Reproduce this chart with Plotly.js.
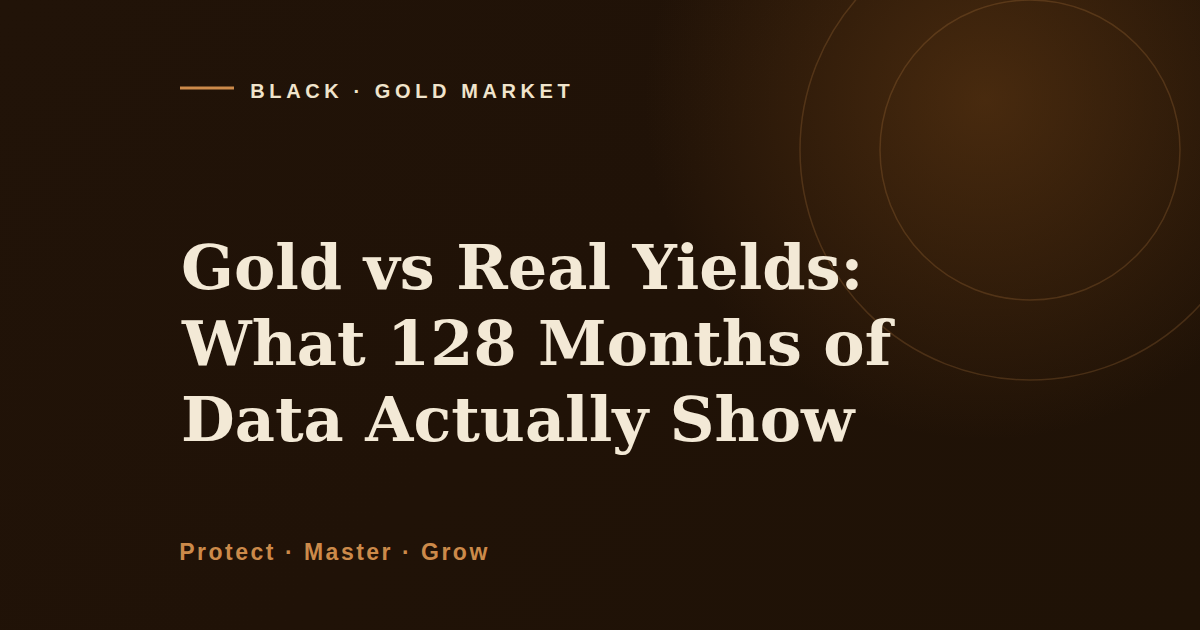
<!DOCTYPE html>
<html>
<head>
<meta charset="utf-8">
<script src="https://cdn.plot.ly/plotly-3.0.1.min.js"></script>
<style>
    html, body { margin: 0; padding: 0; }
    #card {
        width: 1200px;
        height: 630px;
        background:
            radial-gradient(circle 340px at 985px 100px, rgba(112, 66, 22, 0.50), rgba(112, 66, 22, 0) 100%),
            linear-gradient(135deg, #211308 0%, #201207 50%, #1f1206 100%);
    }
    /* letter spacing for the small caps lines (plotly centres text, so x is shifted to compensate) */
    #card g.annotation[data-index="0"] text { letter-spacing: 4.6px; }
    #card g.annotation[data-index="1"] text { letter-spacing: 2.5px; }
</style>
</head>
<body>
<div id="card"></div>
<script>
const eyebrow = 'BLACK · GOLD MARKET';
const taglineWords = ['Protect', 'Master', 'Grow'];
const titleLines = [
    'Gold vs Real Yields:',
    'What 128 Months of',
    'Data Actually Show'
];

const cream = '#f3e9d6';
const copper = '#cc8a4a';
const ringColor = 'rgba(201, 136, 72, 0.22)';

const annotations = [
    {
        text: eyebrow,
        x: 292, y: 91, xanchor: 'left', yanchor: 'middle', showarrow: false,
        font: { family: 'Liberation Sans, Arial, sans-serif', size: 20, color: '#f0e4cc', weight: 700 }
    },
    {
        text: taglineWords.join(' · '),
        x: 206, y: 552, xanchor: 'left', yanchor: 'middle', showarrow: false,
        font: { family: 'Liberation Sans, Arial, sans-serif', size: 23, color: copper, weight: 700 }
    }
];

titleLines.forEach((line, i) => {
    annotations.push({
        text: '<b>' + line + '</b>',
        x: 179, y: 267 + i * 76, xanchor: 'left', yanchor: 'middle', showarrow: false,
        font: { family: 'DejaVu Serif, serif', size: 62, color: cream }
    });
});

const shapes = [
    { type: 'line', x0: 180, x1: 234, y0: 88, y1: 88, line: { color: copper, width: 3 } },
    { type: 'circle', x0: 880, x1: 1180, y0: 0, y1: 300, line: { color: ringColor, width: 1.5 } },
    { type: 'circle', x0: 800, x1: 1260, y0: -80, y1: 380, line: { color: ringColor, width: 1.5 } }
];

const layout = {
    width: 1200,
    height: 630,
    margin: { t: 0, l: 0, r: 0, b: 0 },
    paper_bgcolor: 'rgba(0,0,0,0)',
    plot_bgcolor: 'rgba(0,0,0,0)',
    showlegend: false,
    xaxis: { range: [0, 1200], visible: false, fixedrange: true },
    yaxis: { range: [630, 0], visible: false, fixedrange: true },
    shapes,
    annotations
};

Plotly.newPlot('card', [], layout, { staticPlot: true, displayModeBar: false });
</script>
</body>
</html>
